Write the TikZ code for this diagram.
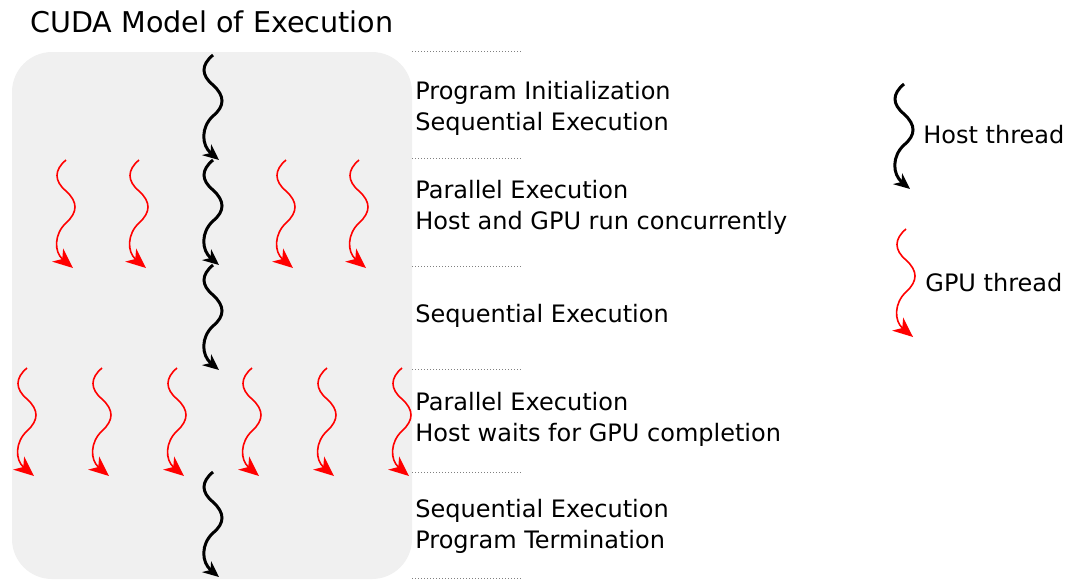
\documentclass[tikz,border=0pt]{standalone}
\usepackage{fontspec}
\setmainfont{DejaVu Sans}
\usepackage{tikz}
\usetikzlibrary{arrows.meta, positioning}

\begin{document}
\begin{tikzpicture}[x=0.5pt, y=-0.5pt,
    host/.style={line width=1.5pt, black, -{Stealth[length=8pt, width=7pt, inset=2.5pt]}},
    gpu/.style={line width=0.8pt, red, -{Stealth[length=10pt, width=8.5pt, inset=3pt]}},
    phase/.style={gray, densely dotted, line width=0.5pt},
    label/.style={anchor=west, inner sep=0pt, align=left, font=\fontsize{12}{15.5}\selectfont},
    hostwave/.pic={\draw[host] (0,0) .. controls (-12,10) and (-12,20) .. (0,30) .. controls (12,41) and (12,51) .. (0,61) .. controls (-12,72) and (-12,90) .. (6,105);},
    gpuwave/.pic={\draw[gpu] (0,0) .. controls (-12,10) and (-12,21) .. (0,31) .. controls (12,42) and (12,52) .. (0,63) .. controls (-12,74) and (-12,92) .. (7,108);}]
    \useasboundingbox (0,0) rectangle (1074,580);
    % background of the program
    \fill[gray!12, rounded corners=20pt] (12,52) rectangle (412,579);
    \node[anchor=west, inner sep=0pt, font=\fontsize{14.3}{17}\selectfont] (title) at (30,22) {CUDA Model of Execution};

    % phase borders
    \coordinate (b0) at (412,51);
    \coordinate (b1) at (412,158);
    \coordinate (b2) at (412,266);
    \coordinate (b3) at (412,369);
    \coordinate (b4) at (412,472);
    \coordinate (b5) at (412,578);
    \draw[phase] (b0) -- ++(110,0);
    \draw[phase] (b1) -- ++(110,0);
    \draw[phase] (b2) -- ++(110,0);
    \draw[phase] (b3) -- ++(110,0);
    \draw[phase] (b4) -- ++(110,0);
    \draw[phase] (b5) -- ++(110,0);

    % phase texts
    \node[label] (init) at (415,108) {Program Initialization\\Sequential Execution};
    \node[label] (par1) at (415,207.5) {Parallel Execution\\Host and GPU run concurrently};
    \node[label] (seq) at (415,315.5) {Sequential Execution};
    \node[label] (par2) at (415,419) {Parallel Execution\\Host waits for GPU completion};
    \node[label] (term) at (415,526.5) {Sequential Execution\\Program Termination};

    % host thread
    \pic at (213,55) {hostwave};
    \pic at (213,160) {hostwave};
    \pic at (213,265) {hostwave};
    \pic at (213,472) {hostwave};

    % gpu threads
    \pic at (66,160) {gpuwave};
    \pic at (139,160) {gpuwave};
    \pic at (286,160) {gpuwave};
    \pic at (359,160) {gpuwave};
    \pic at (27,368) {gpuwave};
    \pic at (102,368) {gpuwave};
    \pic at (177,368) {gpuwave};
    \pic at (252,368) {gpuwave};
    \pic at (327,368) {gpuwave};
    \pic at (402,368) {gpuwave};

    % legend
    \pic at (904,84) {hostwave};
    \node[label] (hostlbl) at (923,134.5) {Host thread};
    \pic at (906,229) {gpuwave};
    \node[label] (gpulbl) at (925,282.5) {GPU thread};
\end{tikzpicture}
\end{document}
